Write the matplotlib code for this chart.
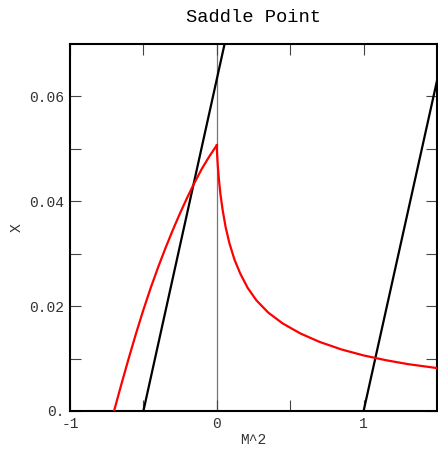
import matplotlib
matplotlib.use("Agg")
import matplotlib.pyplot as plt

# red curve, left branch (M^2 < 0)
red_left_x = [-0.70, -0.65, -0.60, -0.55, -0.50, -0.45, -0.40, -0.35,
              -0.30, -0.25, -0.20, -0.15, -0.10, -0.05, 0.0]
red_left_y = [0.0, 0.0051, 0.01005, 0.0148, 0.0193, 0.0235, 0.0274, 0.03105,
              0.0345, 0.03775, 0.0408, 0.04365, 0.0463, 0.0486, 0.0507]

# red curve, right branch (M^2 > 0)
red_right_x = [0.0, 0.001, 0.003, 0.007, 0.015, 0.025, 0.04, 0.06, 0.085,
               0.12, 0.16, 0.21, 0.27, 0.35, 0.45, 0.57, 0.70, 0.85, 1.00,
               1.15, 1.30, 1.50]
red_right_y = [0.0507, 0.0497, 0.0485, 0.0467, 0.0440, 0.0413, 0.0383,
               0.0351, 0.0321, 0.0289, 0.0262, 0.0235, 0.0211, 0.01878,
               0.01668, 0.01478, 0.01318, 0.01173, 0.01060, 0.0097,
               0.00895, 0.00819]

# black straight lines
line1_x = [-0.5, 0.053]
line1_y = [0.0, 0.07]
line2_x = [1.0, 1.5]
line2_y = [0.0, 0.063]

xticks = [-1, 0, 1]
xticklabels = ["-1", "0", "1"]
xminor = [-0.5, 0.5]
yticks = [0.0, 0.02, 0.04, 0.06]
yticklabels = ["0.", "0.02", "0.04", "0.06"]
yminor = [0.01, 0.03, 0.05]

plt.rcParams['font.family'] = ['Liberation Mono', 'DejaVu Sans']
plt.rcParams['axes.unicode_minus'] = False

fig = plt.figure(figsize=(4.39, 4.49), dpi=100)
ax = fig.add_axes([70 / 439, 1 - 411 / 449, 367 / 439, 367 / 449])

ax.axvline(0, color='#777777', linewidth=0.9, zorder=1)
ax.plot(line1_x, line1_y, color='black', linewidth=1.6, zorder=2)
ax.plot(line2_x, line2_y, color='black', linewidth=1.6, zorder=2)
ax.plot(red_left_x, red_left_y, color='red', linewidth=1.6, zorder=3)
ax.plot(red_right_x, red_right_y, color='red', linewidth=1.6, zorder=3)

ax.set_xlim(-1, 1.5)
ax.set_ylim(0, 0.07)

ax.set_xticks(xticks)
ax.set_xticklabels(xticklabels)
ax.set_xticks(xminor, minor=True)
ax.set_yticks(yticks)
ax.set_yticklabels(yticklabels)
ax.set_yticks(yminor, minor=True)

ax.tick_params(which='both', direction='in', length=8, width=0.8,
               color='#444444', top=True, right=True,
               labelsize=10.5, labelcolor='#333333', pad=4)

for s in ax.spines.values():
    s.set_linewidth(1.5)
    s.set_color('black')

ax.set_title('Saddle Point', fontsize=13.5, pad=16)
ax.set_xlabel('M^2', fontsize=10.5, color='#333333', labelpad=2)
ax.set_ylabel('X', fontsize=10.5, color='#333333', labelpad=4)

fig.savefig('out.png', dpi=100)
